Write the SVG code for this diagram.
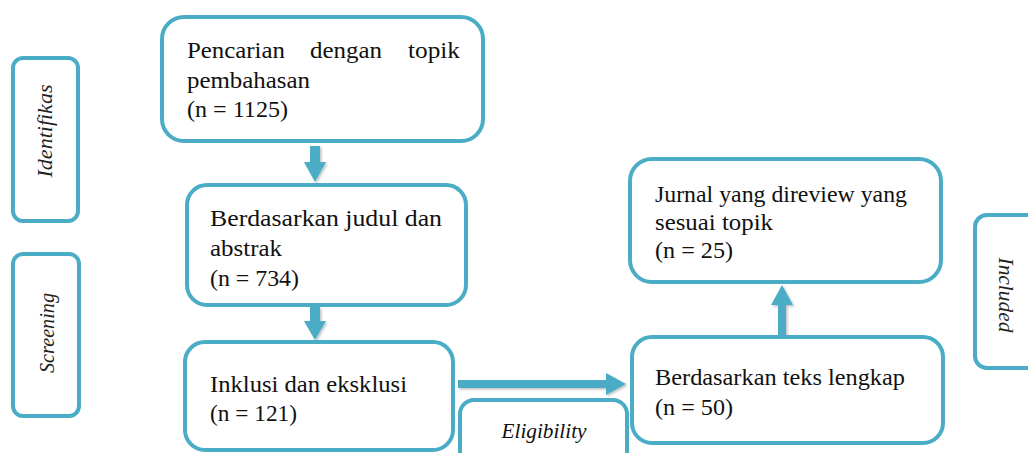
<svg xmlns="http://www.w3.org/2000/svg" width="1028" height="453" viewBox="0 0 1028 453">
<defs>
<filter id="sh" x="-20%" y="-20%" width="150%" height="150%">
<feDropShadow dx="1.5" dy="1.5" stdDeviation="1.2" flood-color="#000" flood-opacity="0.25"/>
</filter>
<style>
.box{fill:#fff;stroke:#4BACC6;stroke-width:4}
.t{font-family:"Liberation Serif","DejaVu Serif",serif;font-size:23px;fill:#111}
.side{font-family:"Liberation Serif","DejaVu Serif",serif;font-style:italic;font-size:20px;fill:#222;text-anchor:middle}
.arr{fill:#4BACC6;filter:url(#sh)}
</style>
</defs>
<rect width="1028" height="453" fill="#fff"/>

<g id="identifikas">
<rect class="box" x="13" y="58" width="65" height="163" rx="10"/>
<text class="side" transform="translate(52,131) rotate(-90)" textLength="93" lengthAdjust="spacingAndGlyphs">Identifikas</text>
</g>
<g id="screening">
<rect class="box" x="13" y="254" width="66" height="162" rx="10"/>
<text class="side" transform="translate(54,333) rotate(-90)" textLength="80" lengthAdjust="spacingAndGlyphs">Screening</text>
</g>
<g id="included">
<rect class="box" x="975" y="215" width="70" height="153" rx="12"/>
<text class="side" transform="translate(999,295) rotate(90)" textLength="75" lengthAdjust="spacingAndGlyphs">Included</text>
</g>

<g id="connectors">
<polygon class="arr" points="310,146 320,146 320,162 326,162 315,182 304,162 310,162"/>
<polygon class="arr" points="310,307 320,307 320,321 326,321 315,340 304,321 310,321"/>
<polygon class="arr" points="458,380 606,380 606,373 626,384 606,395 606,388 458,388"/>
<polygon class="arr" points="778,336 786,336 786,305 793,305 782,285 771,305 778,305"/>
</g>

<g id="pencarian">
<rect class="box" x="162" y="17" width="321" height="124" rx="22"/>
<text class="t" y="58"><tspan x="187" textLength="98" lengthAdjust="spacingAndGlyphs">Pencarian</tspan><tspan x="310" textLength="72" lengthAdjust="spacingAndGlyphs">dengan</tspan><tspan x="408" textLength="52" lengthAdjust="spacingAndGlyphs">topik</tspan></text>
<text class="t" x="187" y="88" textLength="123" lengthAdjust="spacingAndGlyphs">pembahasan</text>
<text class="t" x="187" y="117" textLength="101" lengthAdjust="spacingAndGlyphs">(n = 1125)</text>
</g>

<g id="judul">
<rect class="box" x="187" y="185" width="279" height="120" rx="20"/>
<text class="t" x="210" y="226" textLength="232" lengthAdjust="spacingAndGlyphs">Berdasarkan judul dan</text>
<text class="t" x="210" y="256" textLength="72" lengthAdjust="spacingAndGlyphs">abstrak</text>
<text class="t" x="210" y="286" textLength="89" lengthAdjust="spacingAndGlyphs">(n = 734)</text>
</g>

<g id="inklusi">
<rect class="box" x="185" y="342" width="268" height="108" rx="20"/>
<text class="t" x="210" y="392" textLength="197" lengthAdjust="spacingAndGlyphs">Inklusi dan eksklusi</text>
<text class="t" x="210" y="421" textLength="87" lengthAdjust="spacingAndGlyphs">(n = 121)</text>
</g>

<g id="eligibility">
<rect class="box" x="460" y="400" width="167" height="80" rx="14"/>
<text class="side" x="544" y="438" textLength="85" lengthAdjust="spacingAndGlyphs" style="fill:#111">Eligibility</text>
</g>

<g id="teks-lengkap">
<rect class="box" x="632" y="337" width="311" height="106" rx="20"/>
<text class="t" x="655" y="385" textLength="250" lengthAdjust="spacingAndGlyphs">Berdasarkan teks lengkap</text>
<text class="t" x="655" y="415" textLength="78" lengthAdjust="spacingAndGlyphs">(n = 50)</text>
</g>

<g id="jurnal">
<rect class="box" x="630" y="159" width="311" height="123" rx="22"/>
<text class="t" x="655" y="202" textLength="252" lengthAdjust="spacingAndGlyphs">Jurnal yang direview yang</text>
<text class="t" x="655" y="230" textLength="118" lengthAdjust="spacingAndGlyphs">sesuai topik</text>
<text class="t" x="655" y="258" textLength="78" lengthAdjust="spacingAndGlyphs">(n = 25)</text>
</g>
</svg>
